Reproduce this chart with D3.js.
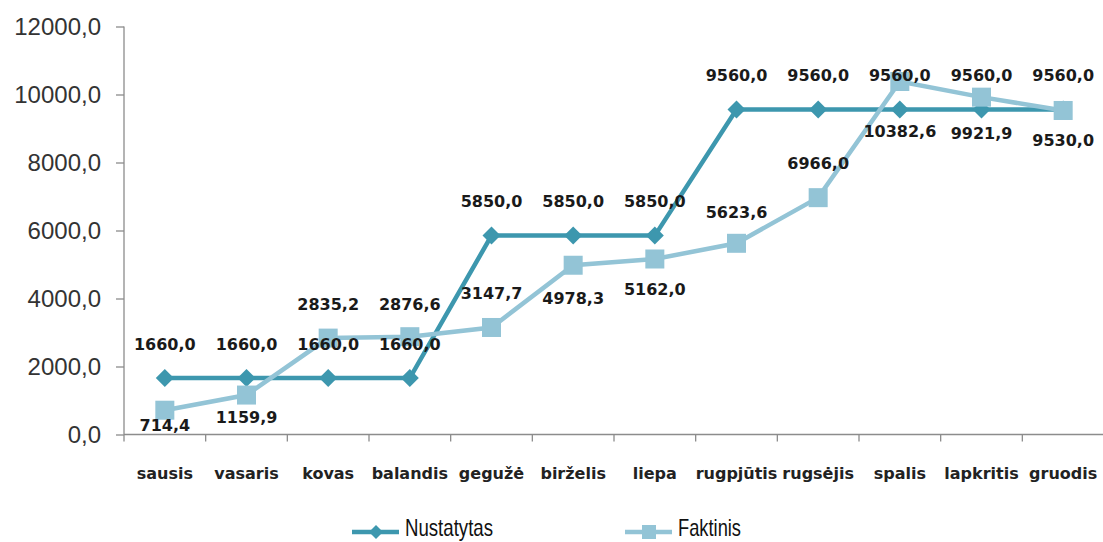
<!DOCTYPE html>
<meta charset="utf-8">
<style>
body { margin: 0; background: #fff; }
svg { font-family: "DejaVu Sans", sans-serif; }
.yaxis text { font-family: "Liberation Sans", sans-serif; font-size: 24px; fill: #333; }
.axis path, .axis line { stroke: #8c8c8c; stroke-width: 1.3; }
</style>
<svg width="1103" height="542"></svg>
<script src="https://cdn.jsdelivr.net/npm/d3@7"></script>
<script>

var months = ["sausis", "vasaris", "kovas", "balandis", "gegužė", "birželis",
              "liepa", "rugpjūtis", "rugsėjis", "spalis", "lapkritis", "gruodis"];
var nustatytas = [1660, 1660, 1660, 1660, 5850, 5850, 5850, 9560, 9560, 9560, 9560, 9560];
var faktinis = [714.4, 1159.9, 2835.2, 2876.6, 3147.7, 4978.3, 5162.0, 5623.6, 6966.0, 10382.6, 9921.9, 9530.0];
var yTicks = [0, 2000, 4000, 6000, 8000, 10000, 12000];
var seriesNames = ["Nustatytas", "Faktinis"];

// label offsets (px) for the Faktinis labels, as placed in the original
var faktLabelDy = [15, 22, -34, -32, -34, 33, 30, -31, -34, 50, 36, 30];

var svg = d3.select("svg");
var c1 = "#3d97ae", c2 = "#93c4d6";

var x = d3.scaleBand().domain(months).range([124, 1104]);
var y = d3.scaleLinear().domain([0, 12000]).range([434.5, 26.5]);
var cx = function(d, i) { return x(months[i]) + x.bandwidth() / 2; };
var fmt = function(v) { return d3.format(".1f")(v).replace(".", ","); };

svg.append("g")
    .attr("class", "axis yaxis")
    .attr("transform", "translate(124,0)")
    .call(d3.axisLeft(y).tickValues(yTicks).tickSize(8).tickPadding(15).tickFormat(fmt))
    .call(function(g) { g.select(".domain").attr("d", "M0," + y(12000) + "V" + y(0)); });

var xg = svg.append("g")
    .attr("class", "axis")
    .attr("transform", "translate(0," + y(0) + ")");
xg.append("line").attr("x1", 124).attr("x2", 1104);
xg.selectAll(".tk")
  .data(months.concat([null]))
  .enter().append("line")
    .attr("x1", function(d, i) { return 124 + i * x.bandwidth(); })
    .attr("x2", function(d, i) { return 124 + i * x.bandwidth(); })
    .attr("y2", 7);
xg.selectAll("text")
  .data(months)
  .enter().append("text")
    .attr("x", cx)
    .attr("y", 44)
    .attr("text-anchor", "middle")
    .style("font-size", "16px")
    .style("font-weight", "bold")
    .style("fill", "#222")
    .text(function(d) { return d; });

var line = d3.line().x(cx).y(function(d) { return y(d); });

function diamond(sel, r) {
  sel.attr("d", "M0," + (-r) + "L" + r + ",0L0," + r + "L" + (-r) + ",0Z");
}

svg.append("path").datum(nustatytas)
    .attr("d", line).attr("fill", "none").attr("stroke", c1).attr("stroke-width", 4.5);
svg.selectAll(".dia").data(nustatytas).enter().append("path")
    .attr("transform", function(d, i) { return "translate(" + cx(d, i) + "," + y(d) + ")"; })
    .attr("fill", c1).call(diamond, 9);

svg.append("path").datum(faktinis)
    .attr("d", line).attr("fill", "none").attr("stroke", c2).attr("stroke-width", 4.5);
svg.selectAll(".sq").data(faktinis).enter().append("rect")
    .attr("x", function(d, i) { return cx(d, i) - 9.5; })
    .attr("y", function(d) { return y(d) - 9.5; })
    .attr("width", 19).attr("height", 19)
    .attr("fill", c2);

function labels(data, dy) {
  svg.append("g").selectAll("text").data(data).enter().append("text")
      .attr("x", cx)
      .attr("y", function(d, i) { return y(d) + dy(i); })
      .attr("dy", "0.36em")
      .attr("text-anchor", "middle")
      .style("font-size", "16px")
      .style("font-weight", "bold")
      .style("fill", "#1a1a1a")
      .text(fmt);
}
labels(nustatytas, function() { return -34; });
labels(faktinis, function(i) { return faktLabelDy[i]; });

// legend at the bottom edge
var legendW = [88, 63];
var lg = svg.append("g").attr("transform", "translate(0,532)");
var items = lg.selectAll("g").data(seriesNames).enter().append("g")
    .attr("transform", function(d, i) { return "translate(" + (352 + i * 273) + ",0)"; });
items.append("line").attr("x1", 0).attr("x2", 47)
    .attr("stroke", function(d, i) { return i ? c2 : c1; }).attr("stroke-width", 4.5);
items.filter(function(d, i) { return i === 0; }).append("path")
    .attr("transform", "translate(24,0)").attr("fill", c1).call(diamond, 7);
items.filter(function(d, i) { return i === 1; }).append("rect")
    .attr("x", 17).attr("y", -7).attr("width", 14).attr("height", 14).attr("fill", c2);
items.append("text")
    .attr("x", 53).attr("y", 4)
    .attr("textLength", function(d, i) { return legendW[i]; })
    .attr("lengthAdjust", "spacingAndGlyphs")
    .style("font-family", "'Liberation Sans', sans-serif")
    .style("font-size", "24px")
    .style("fill", "#111")
    .text(function(d) { return d; });

</script>
